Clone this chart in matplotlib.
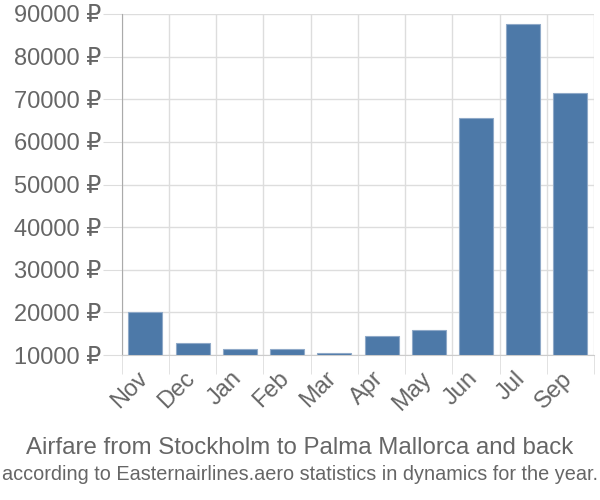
import numpy as np
import matplotlib.pyplot as plt
import matplotlib.transforms as mtransforms
from matplotlib.ticker import FixedLocator

months = ['Nov', 'Dec', 'Jan', 'Feb', 'Mar', 'Apr', 'May', 'Jun', 'Jul', 'Sep']
prices = [20200, 12750, 11500, 11500, 10400, 14550, 15900, 65700, 87550, 71500]
yticks = [10000, 20000, 30000, 40000, 50000, 60000, 70000, 80000, 90000]

plt.rcParams['font.family'] = ['Liberation Sans', 'DejaVu Sans']
txt = '#666666'

fig = plt.figure(figsize=(6, 5), dpi=100)
ax = fig.add_axes([0.203, 0.29, 0.787, 0.682])

x = np.arange(len(months))
ax.bar(x, np.array(prices) - 10000, bottom=10000, width=0.72,
       color='#4d79a8', edgecolor='#8fa9c8', linewidth=0.8, zorder=3)

ax.set_xlim(-0.5, len(months) - 0.5)
ax.set_ylim(10000, 90000)
ax.set_yticks(yticks)
ax.set_yticklabels([f'{v} ₽' for v in yticks], fontsize=17, color=txt)
ax.set_xticks(x)
ax.set_xticklabels(months, rotation=45, ha='right', rotation_mode='anchor',
                   fontsize=17, color=txt)
ax.tick_params(axis='x', length=0, pad=9)
ax.tick_params(axis='y', length=14, color='#dddddd', pad=1)

# shift the rotated month labels a little to the left
shift = mtransforms.ScaledTranslation(-0.09, 0, fig.dpi_scale_trans)
for lab in ax.get_xticklabels():
    lab.set_transform(lab.get_transform() + shift)

# grid on category boundaries
ax.xaxis.set_minor_locator(FixedLocator(np.arange(-0.5, len(months), 1.0)))
ax.tick_params(axis='x', which='minor', length=14, color='#dddddd')
ax.grid(True, which='minor', axis='x', color='#dddddd', linewidth=1, zorder=0)
ax.grid(True, which='major', axis='y', color='#dddddd', linewidth=1, zorder=0)

for s in ['top', 'right']:
    ax.spines[s].set_visible(False)
ax.spines['left'].set_color('#aaaaaa')
ax.spines['bottom'].set_color('#cccccc')

fig.text(0.5, 0.104, 'Airfare from Stockholm to Palma Mallorca and back',
         ha='center', va='center', fontsize=17.3, color=txt)
fig.text(0.5, 0.05, 'according to Easternairlines.aero statistics in dynamics for the year.',
         ha='center', va='center', fontsize=14.3, color=txt)

fig.savefig('out.png', dpi=100)
